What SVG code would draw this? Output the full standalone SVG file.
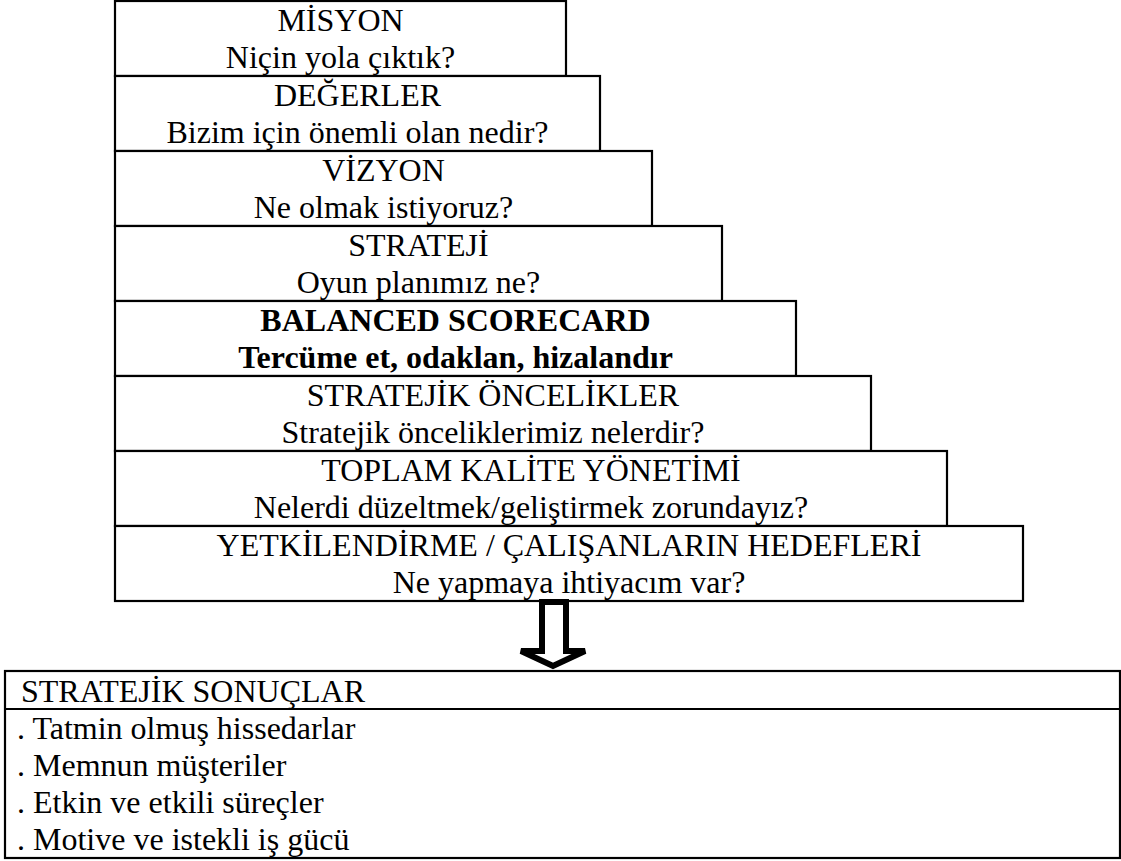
<svg xmlns="http://www.w3.org/2000/svg" width="1121" height="861" viewBox="0 0 1121 861">
  <style>
    .box { fill: #fff; stroke: #000; stroke-width: 2.2; }
    .t { font-family: "Liberation Serif", "Times New Roman", serif; font-size: 32px; fill: #000; }
    .c { text-anchor: middle; }
    .b { font-weight: bold; }
  </style>
  <rect width="1121" height="861" fill="#fff"/>

  <!-- stacked levels -->
  <g id="misyon">
    <rect class="box" x="115" y="1" width="451" height="75"/>
    <text class="t c" x="340.5" y="31">MİSYON</text>
    <text class="t c" x="340.5" y="68">Niçin yola çıktık?</text>
  </g>
  <g id="degerler">
    <rect class="box" x="115" y="76" width="485" height="75"/>
    <text class="t c" x="357.5" y="106">DEĞERLER</text>
    <text class="t c" x="357.5" y="143">Bizim için önemli olan nedir?</text>
  </g>
  <g id="vizyon">
    <rect class="box" x="115" y="151" width="537" height="75"/>
    <text class="t c" x="383.5" y="181">VİZYON</text>
    <text class="t c" x="383.5" y="218">Ne olmak istiyoruz?</text>
  </g>
  <g id="strateji">
    <rect class="box" x="115" y="226" width="607" height="75"/>
    <text class="t c" x="418.5" y="256">STRATEJİ</text>
    <text class="t c" x="418.5" y="293">Oyun planımız ne?</text>
  </g>
  <g id="balanced-scorecard">
    <rect class="box" x="115" y="301" width="681" height="75"/>
    <text class="t c b" x="455.5" y="331">BALANCED SCORECARD</text>
    <text class="t c b" x="455.5" y="368">Tercüme et, odaklan, hizalandır</text>
  </g>
  <g id="stratejik-oncelikler">
    <rect class="box" x="115" y="376" width="756" height="75"/>
    <text class="t c" x="493" y="406">STRATEJİK ÖNCELİKLER</text>
    <text class="t c" x="493" y="443">Stratejik önceliklerimiz nelerdir?</text>
  </g>
  <g id="tky">
    <rect class="box" x="115" y="451" width="832" height="75"/>
    <text class="t c" x="531" y="481">TOPLAM KALİTE YÖNETİMİ</text>
    <text class="t c" x="531" y="518">Nelerdi düzeltmek/geliştirmek zorundayız?</text>
  </g>
  <g id="yetkilendirme">
    <rect class="box" x="115" y="526" width="908" height="75"/>
    <text class="t c" x="569" y="556">YETKİLENDİRME / ÇALIŞANLARIN HEDEFLERİ</text>
    <text class="t c" x="569" y="593">Ne yapmaya ihtiyacım var?</text>
  </g>

  <!-- block arrow down to results -->
  <g id="connectors">
    <polygon points="542,602 566,602 566,651 585,651 553,666 521,651 542,651"
             fill="#fff" stroke="#000" stroke-width="6" stroke-linejoin="miter"/>
  </g>

  <!-- results -->
  <g id="stratejik-sonuclar">
    <rect class="box" x="5" y="671" width="1115" height="187"/>
    <line x1="5" y1="709" x2="1120" y2="709" stroke="#000" stroke-width="2.2"/>
    <text class="t" x="21" y="702">STRATEJİK SONUÇLAR</text>
    <text class="t" x="17" y="739">. Tatmin olmuş hissedarlar</text>
    <text class="t" x="17" y="776">. Memnun müşteriler</text>
    <text class="t" x="17" y="813">. Etkin ve etkili süreçler</text>
    <text class="t" x="17" y="850">. Motive ve istekli iş gücü</text>
  </g>
</svg>
